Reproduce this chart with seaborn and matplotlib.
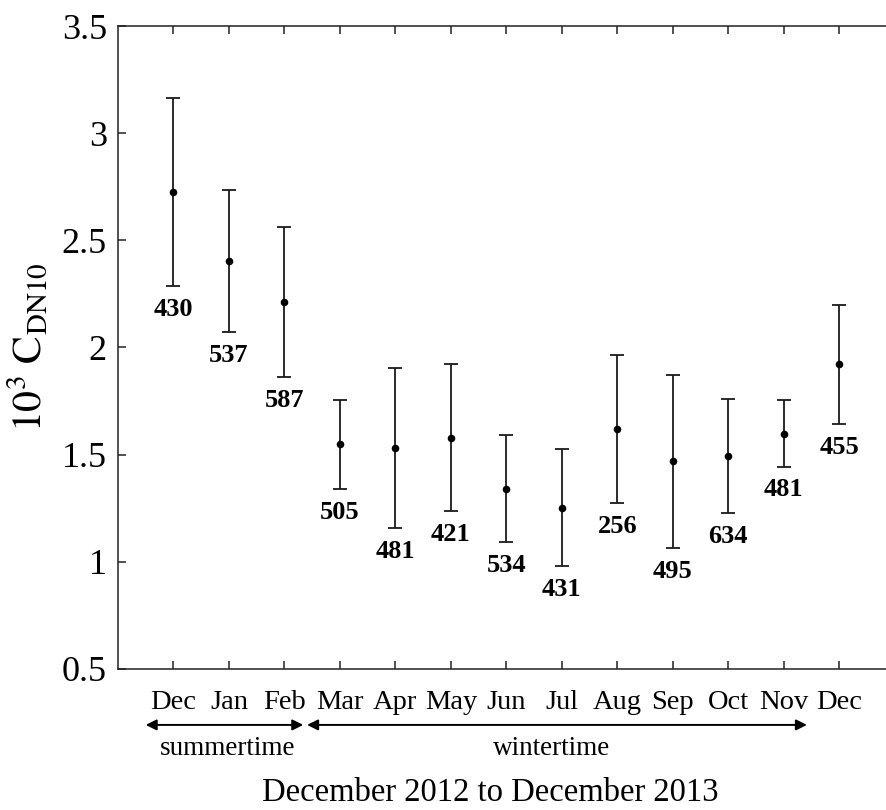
import numpy as np
import pandas as pd
import seaborn as sns
import matplotlib.pyplot as plt
import matplotlib.transforms as mtransforms

sns.set_theme(style="ticks", rc={"text.color": "black", "axes.labelcolor": "black",
                                 "xtick.color": "black", "ytick.color": "black",
                                 "axes.edgecolor": "black"})
plt.rcParams['font.family'] = ['Liberation Serif', 'DejaVu Serif']
plt.rcParams['mathtext.fontset'] = 'stix'

# monthly drag coefficient (10^3 C_DN10), Dec 2012 .. Dec 2013
months = ["Dec", "Jan", "Feb", "Mar", "Apr", "May", "Jun",
          "Jul", "Aug", "Sep", "Oct", "Nov", "Dec"]
cd_mean = [2.724, 2.405, 2.212, 1.548, 1.531, 1.579, 1.341,
           1.252, 1.619, 1.469, 1.495, 1.598, 1.923]
cd_upper = [3.166, 2.735, 2.564, 1.756, 1.903, 1.921, 1.591,
            1.525, 1.965, 1.871, 1.759, 1.755, 2.200]
cd_lower = [2.287, 2.072, 1.862, 1.339, 1.157, 1.237, 1.092,
            0.980, 1.274, 1.064, 1.229, 1.444, 1.643]
n_obs = [430, 537, 587, 505, 481, 421, 534, 431, 256, 495, 634, 481, 455]

data = pd.DataFrame({"pos": np.arange(1, len(months) + 1),
                     "month": months, "mean": cd_mean,
                     "upper": cd_upper, "lower": cd_lower, "n": n_obs})

fig = plt.figure(figsize=(8.87, 8.10), dpi=100)
ax = fig.add_axes([0.1330, 0.1741, 0.8755, 0.7938])

err = [data["mean"] - data["lower"], data["upper"] - data["mean"]]
ax.errorbar(data["pos"], data["mean"], yerr=err, fmt="none",
            ecolor="#1a1a1a", elinewidth=1.3, capsize=5.3, capthick=1.3)
sns.scatterplot(data=data, x="pos", y="mean", color="black", s=30,
                edgecolor="black", linewidth=0, ax=ax, zorder=3)

for _, row in data.iterrows():
    ax.annotate(str(row["n"]), xy=(row["pos"], row["lower"]),
                xytext=(0, -8.5), textcoords="offset points",
                ha="center", va="top", fontsize=19, fontweight="bold")

ax.set_xlim(0, 14)
ax.set_ylim(0.5, 3.5)
ax.set_yticks(np.arange(0.5, 3.51, 0.5))
ax.set_yticklabels(["0.5", "1", "1.5", "2", "2.5", "3", "3.5"])
ax.set_xticks(data["pos"])
ax.set_xticklabels(months)
ax.tick_params(axis="both", direction="in", top=True, right=True,
               length=5.5, width=1.1, color="#222222")
ax.tick_params(axis="x", labelsize=20.5, pad=15)
ax.tick_params(axis="y", labelsize=26, pad=8)
for sp in ax.spines.values():
    sp.set_linewidth(1.1)
    sp.set_color("#222222")

ax.set_xlabel("")
ax.set_ylabel(r"$\mathrm{10^3\ C_{DN10}}$", fontsize=30, labelpad=8)

trans = mtransforms.blended_transform_factory(ax.transData, ax.transAxes)
arrow = dict(arrowstyle="<|-|>", color="black", lw=1.4,
             mutation_scale=16, shrinkA=0, shrinkB=0)
ax.annotate("", xy=(0.50, -0.087), xytext=(3.34, -0.087), xycoords=trans,
            textcoords=trans, arrowprops=arrow, annotation_clip=False)
ax.annotate("", xy=(3.41, -0.087), xytext=(12.42, -0.087), xycoords=trans,
            textcoords=trans, arrowprops=arrow, annotation_clip=False)
ax.text(1.97, -0.1244, "summertime", transform=trans, ha="center",
        va="center", fontsize=19.5)
ax.text(7.81, -0.1244, "wintertime", transform=trans, ha="center",
        va="center", fontsize=19.5)
ax.text(6.71, -0.1925, "December 2012 to December 2013", transform=trans,
        ha="center", va="center", fontsize=23.5)

fig.savefig("out.png", dpi=100)
